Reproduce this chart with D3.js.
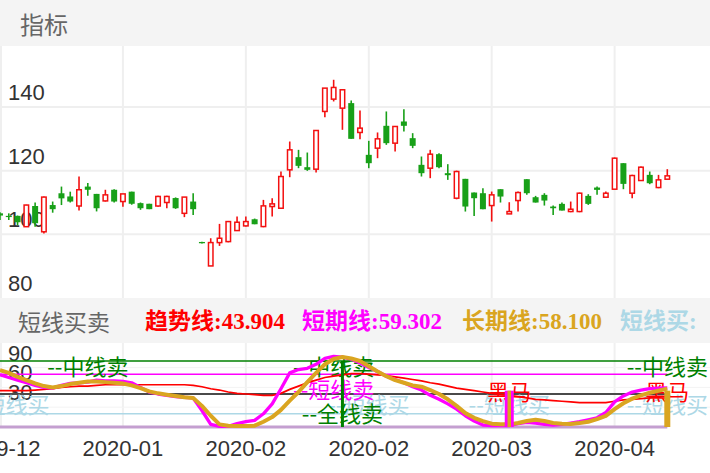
<!DOCTYPE html>
<html><head><meta charset="utf-8">
<script src="https://cdn.jsdelivr.net/npm/d3@7"></script>
<style>html,body{margin:0;padding:0;background:#fff;}svg{display:block}</style>
</head><body>
<svg id="chart" width="710" height="473"></svg>
<script>
// ---------- DATA ----------
const openP  = [106.6,105.8,105.8,102.4,108.9,100.8,109.2,112.9,111.9,108.9,115.0,112.7,110.5,114.0,110.3,113.4,109.8,109.6,108.9,110.0,111.4,106.6,110.3,
  97.6,90.07,97.41,97.72,101.18,102.65,104.74,102.44,108.73,108.20,120.26,124.24,121.09,120.47,138.60,142.47,139.64,141.22,132.00,124.97,127.07,134.09,128.64,135.45,130.21,121.83,120.78,125.18,119.21,111.35,
  117.43,113.13,112.92,109.04,114.18,106.42,110.61,117.32,111.66,112.40,108.73,109.57,107.16,107.16,112.08,114.70,111.66,114.18,122.35,112.92,116.90,118.68,114.70,117.32];
const highP  = [106.9,106.6,105.9,109.3,110.0,111.9,110.3,115.0,113.4,118.2,116.1,112.7,114.0,114.2,112.7,113.4,110.0,109.6,112.1,112.1,111.6,111.7,112.9,
  97.7,98.77,103.28,104.2,105.58,105.58,104.95,110.82,111.35,119.73,129.16,126.54,125.70,132.62,145.93,148.55,145.62,142.05,138.91,129.37,132.00,138.60,133.88,139.33,131.78,124.45,126.54,125.50,122.04,120.00,
  117.43,113.13,114.49,113.44,114.18,110.09,113.44,117.32,112.08,112.92,109.04,109.99,110.30,113.13,112.61,115.02,113.44,124.13,122.35,118.68,121.30,119.73,118.68,120.47];
const lowP   = [104.5,104.5,102.9,102.3,102.4,100.3,106.8,109.2,110.0,107.5,112.1,107.2,110.3,110.0,108.7,109.3,107.7,107.9,108.7,108.2,108.0,105.4,106.1,
  97.1,90.07,96.36,97.5,101.18,102.44,103.17,102.23,105.58,108.20,117.95,120.78,119.94,119.42,136.81,141.74,132.83,130.00,129.90,120.78,123.92,128.11,126.02,132.31,127.07,118.16,117.64,120.78,117.11,111.00,
  107.16,105.79,107.89,104.01,109.99,106.42,107.16,112.40,109.99,109.04,106.11,107.47,106.95,106.95,109.25,112.40,111.66,114.18,114.18,111.35,116.90,115.75,114.49,117.32];
const closeP = [105.9,105.5,103.8,109.2,103.5,111.7,107.9,111.3,110.3,114.0,114.0,108.2,112.4,110.3,112.7,109.6,108.2,107.9,111.9,111.9,108.2,111.7,107.9,
  97.2,97.41,98.77,104.01,103.80,104.01,103.17,108.94,109.57,118.16,126.54,121.51,120.26,132.62,145.93,146.14,145.41,130.00,133.36,122.35,130.00,128.64,133.88,134.09,127.80,119.21,125.18,121.09,118.58,119.73,
  108.73,111.35,107.89,112.40,111.87,107.16,113.13,112.92,109.99,110.61,108.20,107.47,107.89,112.92,109.57,113.97,112.92,123.92,115.85,118.47,121.09,116.06,117.11,118.37];

// indicator series (短线买卖)
const trendLine = [55,55,55,55,56,57,58,60,61,62,62,63,64,64,64,64,64,64,64,64,64,64,63,
  61,58,56,53,51,50,49,48,48,51,57,62,67,71,75,77,79,81,81,80,79,78,76,74,72,70,67,65,62,59,
  57,55,53,51,49,48,46,44,42,41,40,39,38,37,37,37,37,39,41,42,43,44,44,43.904];
const shortLine = [79,75,71,67,63,60,59,63,66,67,68,71,70,70,69,67,60,53,50,48,46,45,44,
  25,4,1,1,5,8,10,20,35,58,82,87,89,95,104,107,106,103,97,90,84,77,72,67,61,56,48,42,35,27,
  17,9,3,2,2,2,5,7,6,4,3,4,6,8,11,14,22,38,47,53,56,58,59,59.302];
const longLine = [86,82,76,71,66,62,60,62,65,67,69,69,68,67,66,63,59,54,51,49,47,45,44,
  32,17,4,2,1.5,1.5,2,8,15,26,40,53,68,82,95,103,106,104,100,92,84,77,71,67,63,61,56,50,42,32,
  21,14,9,5,4,4,6,9,11,9,6,5,4.5,6,8,12,17,27,36,43,48,52,55,58.100];

// reference levels of the indicator
const refLevels = [100, 80, 50, 20, 0];
const refNames  = ["green","magenta","gray","lightblue","purple"];

// signals (bar index) and label value
const shortBuyIdx = [1, 42, 58, 76];   // --短线买
const midSellIdx  = [10, 38, 76];      // --中线卖
const shortSellIdx= [38];              // --短线卖
const allSellIdx  = [39];              // --全线卖
const horseIdx    = [58, 76];          // 黑马
const signalText = {shortBuy:"--短线买", midSell:"--中线卖", shortSell:"--短线卖", allSell:"--全线卖", horse:"黑马"};
const signalValue = {shortBuy:36, midSell:94, shortSell:59, allSell:23, horse:56};
const allSellBarTop = 100;
const horseBarTop = 55;

// ticks
const priceTicks = [80, 100, 120, 140];
const indTicks = [30, 60, 90];
const xTickIdx = [0, 14, 28, 42, 56, 70];
const xTickLabels = ["2019-12","2020-01","2020-02","2020-02","2020-03","2020-04"];

const legendItems = [
  {name:"趋势线", value:"43.904"},
  {name:"短期线", value:"59.302"},
  {name:"长期线", value:"58.100"},
  {name:"短线买", value:""}
];

// ---------- DRAW ----------
const W = 710, H = 473;
const svg = d3.select("#chart");
const n = closeP.length;
const x = d3.scaleLinear().domain([0, n-1]).range([0, 667.3]);
const yP = d3.scaleLinear().domain([80, 140]).range([298, 107]);
const yI = d3.scaleLinear().domain([0, 100]).range([427, 361]);

const RED = "#f31010", GREEN = "#18a018";
const C = {red:"#ff0000", magenta:"#ff00ff", gold:"#daa520", green:"#008000", lightblue:"#add8e6", gray:"#4a4a4a", purple:"#c49fd0"};

// backgrounds
svg.append("rect").attr("x",0).attr("y",0).attr("width",W).attr("height",H).attr("fill","#fff");
svg.append("rect").attr("x",0).attr("y",0).attr("width",W).attr("height",46).attr("fill","#f4f4f4");
svg.append("rect").attr("x",0).attr("y",298).attr("width",W).attr("height",45).attr("fill","#f4f4f4");

svg.append("text").attr("x",20).attr("y",23).attr("dominant-baseline","central")
  .attr("font-family","'Noto Sans CJK SC',sans-serif").attr("font-size",24).attr("fill","#666").text("指标");

// main grid
const gMain = svg.append("g");
gMain.selectAll("line.v").data(xTickIdx).join("line")
  .attr("x1",d=>Math.max(1,x(d))).attr("x2",d=>Math.max(1,x(d))).attr("y1",46).attr("y2",298)
  .attr("stroke","#efefef").attr("stroke-width",2);
gMain.selectAll("line.h").data(priceTicks.filter(t=>t>80)).join("line")
  .attr("x1",0).attr("x2",W).attr("y1",d=>yP(d)).attr("y2",d=>yP(d))
  .attr("stroke","#efefef").attr("stroke-width",2);
gMain.selectAll("text.yl").data(priceTicks).join("text")
  .attr("x",8).attr("y",d=>yP(d)-7)
  .attr("font-family","'Liberation Sans',Arial,sans-serif").attr("font-size",22).attr("fill","#333")
  .text(d=>d);

// candles
const clipMain = svg.append("clipPath").attr("id","cm").append("rect").attr("x",0).attr("y",46).attr("width",W).attr("height",252);
const gC = svg.append("g").attr("clip-path","url(#cm)");
const bw = 6;
const idx = d3.range(n);
idx.forEach(i=>{
  const up = closeP[i] >= openP[i];
  const col = up ? RED : GREEN;
  const cx = x(i);
  const top = yP(Math.max(openP[i], closeP[i])), bot = yP(Math.min(openP[i], closeP[i]));
  gC.append("line").attr("x1",cx).attr("x2",cx).attr("y1",yP(highP[i])).attr("y2",yP(lowP[i]))
    .attr("stroke",col).attr("stroke-width",1.6);
  const h = Math.max(1.2, bot-top);
  if (up) {
    gC.append("rect").attr("x",cx-bw/2+0.75).attr("y",top).attr("width",bw-1.5).attr("height",h)
      .attr("fill","#fff").attr("stroke",col).attr("stroke-width",1.5);
  } else {
    gC.append("rect").attr("x",cx-bw/2).attr("y",top).attr("width",bw).attr("height",h).attr("fill",col);
  }
});

// legend row
const lg = svg.append("g");
lg.append("text").attr("x",18).attr("y",321).attr("dominant-baseline","central")
  .attr("font-family","'Noto Sans CJK SC',sans-serif").attr("font-size",23).attr("fill","#666").text("短线买卖");
const legendX = [145, 302, 462, 620];
const legendCol = [C.red, C.magenta, C.gold, C.lightblue];
legendItems.forEach((it,k)=>{
  lg.append("text").attr("x",legendX[k]).attr("y",321).attr("dominant-baseline","central")
    .attr("font-family","'Liberation Serif','Noto Sans CJK SC',serif").attr("font-weight","bold")
    .attr("font-size",23).attr("fill",legendCol[k]).text(it.name + ":" + it.value);
});

// indicator panel
const gI = svg.append("g");
gI.selectAll("line.v").data(xTickIdx).join("line")
  .attr("x1",d=>Math.max(1,x(d))).attr("x2",d=>Math.max(1,x(d))).attr("y1",343).attr("y2",427)
  .attr("stroke","#f0f0f0").attr("stroke-width",2);
gI.selectAll("line.h").data(indTicks).join("line")
  .attr("x1",0).attr("x2",W).attr("y1",d=>yI(d)).attr("y2",d=>yI(d))
  .attr("stroke","#f3f3f3").attr("stroke-width",1);
gI.selectAll("text.yl").data(indTicks).join("text")
  .attr("x",8).attr("y",d=>yI(d)-7)
  .attr("font-family","'Liberation Sans',Arial,sans-serif").attr("font-size",22).attr("fill","#333")
  .text(d=>d);

svg.append("clipPath").attr("id","ci").append("rect").attr("x",0).attr("y",343).attr("width",W).attr("height",88);
const gL = svg.append("g").attr("clip-path","url(#ci)");

// reference lines
const refW = {green:1.6, magenta:1.6, gray:2, lightblue:1.6, purple:3.2};
refLevels.forEach((v,k)=>{
  gL.append("line").attr("x1",0).attr("x2",x(n-1)).attr("y1",yI(v)).attr("y2",yI(v))
    .attr("stroke",C[refNames[k]]).attr("stroke-width",refW[refNames[k]]);
});

// signal texts
function drawTexts(list, key, col){
  list.forEach(i=>{
    gL.append("text").attr("x",x(i)).attr("y",yI(signalValue[key])).attr("text-anchor","middle")
      .attr("dominant-baseline","central")
      .attr("font-family","'Noto Sans CJK SC',sans-serif").attr("font-size",22).attr("fill",col)
      .text(signalText[key]);
  });
}
drawTexts(shortBuyIdx, "shortBuy", C.lightblue);
drawTexts(midSellIdx, "midSell", C.green);
drawTexts(shortSellIdx, "shortSell", C.magenta);
drawTexts(allSellIdx, "allSell", C.green);
drawTexts(horseIdx, "horse", C.red);

// indicator lines
const line = d3.line().x((d,i)=>x(i)).y(d=>yI(d)).curve(d3.curveLinear);
gL.append("path").attr("d",line(trendLine)).attr("fill","none").attr("stroke",C.red).attr("stroke-width",1.7);
gL.append("path").attr("d",line(shortLine)).attr("fill","none").attr("stroke",C.magenta).attr("stroke-width",3.3).attr("stroke-linejoin","round");
gL.append("path").attr("d",line(longLine)).attr("fill","none").attr("stroke",C.gold).attr("stroke-width",4).attr("stroke-linejoin","round");

// signal bars
allSellIdx.forEach(i=>{
  gL.append("line").attr("x1",x(i)).attr("x2",x(i)).attr("y1",yI(allSellBarTop)).attr("y2",yI(0))
    .attr("stroke",C.green).attr("stroke-width",3);
});
horseIdx.forEach((i,k)=>{
  if (shortBuyIdx.includes(i) && k===0) {
    gL.append("line").attr("x1",x(i)).attr("x2",x(i)).attr("y1",yI(horseBarTop)).attr("y2",yI(0))
      .attr("stroke",C.magenta).attr("stroke-width",9);
  }
  gL.append("line").attr("x1",x(i)).attr("x2",x(i)).attr("y1",yI(horseBarTop)).attr("y2",yI(0))
    .attr("stroke",C.gold).attr("stroke-width",k===0?3.5:6);
});

// x axis labels
svg.selectAll("text.xl").data(xTickIdx).join("text")
  .attr("x",d=>x(d)).attr("y",456).attr("text-anchor","middle")
  .attr("font-family","'Liberation Sans',Arial,sans-serif").attr("font-size",22).attr("fill","#333")
  .text((d,k)=>xTickLabels[k]);
</script>
</body></html>
